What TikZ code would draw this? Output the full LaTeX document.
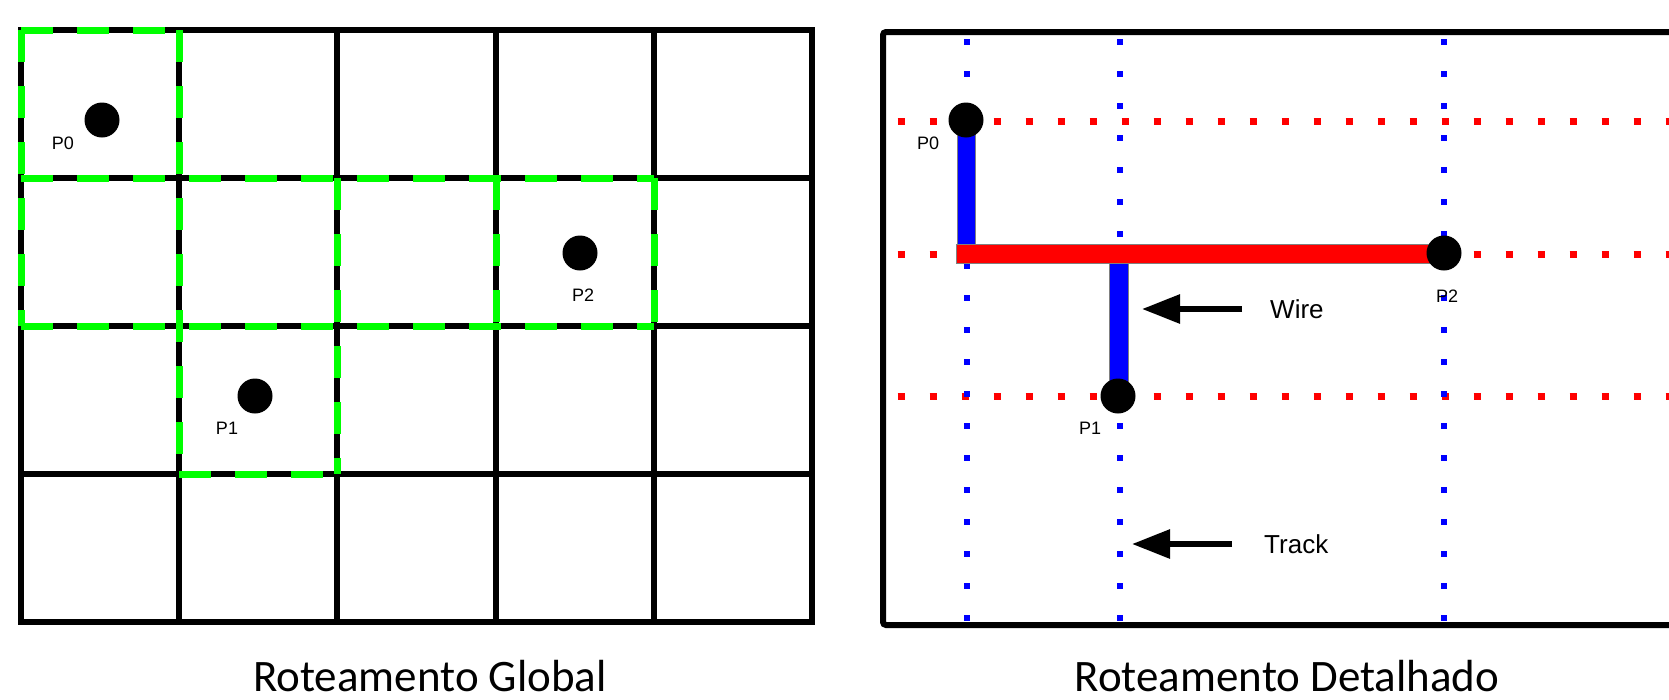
\documentclass[tikz,border=0pt]{standalone}
\usepackage{fontspec}
\setmainfont{Liberation Sans}
\newfontfamily\titlefont{Carlito}
\usetikzlibrary{arrows.meta}
\tikzset{
  gridline/.style={line width=6pt, black},
  routeline/.style={line width=7pt, color=green!100, dash pattern=on 32pt off 24pt},
  pin/.style={circle, fill=black, inner sep=0pt, minimum size=35pt},
  pinlabel/.style={font=\fontsize{18}{18}\selectfont, inner sep=0pt},
  hdots/.style={line width=7pt, color=red, dash pattern=on 7pt off 25pt},
  vdots/.style={line width=6pt, color=blue, dash pattern=on 6pt off 26pt},
  wireblue/.style={fill=blue, draw=gray, line width=1pt},
  wirered/.style={fill=red, draw=gray, line width=1pt},
  callout/.style={line width=6pt, -{Triangle[length=38pt,width=28pt]}},
  calltext/.style={font=\fontsize{26}{26}\selectfont, anchor=west, inner sep=0pt},
  titletext/.style={font=\titlefont\fontsize{45}{45}\selectfont, anchor=base, inner sep=0pt}
}
\begin{document}
\begin{tikzpicture}[x=1pt,y=-1pt]
\useasboundingbox (0,0) rectangle (1669,699);
\clip (0,0) rectangle (1669,699);
% ---------- Global routing grid ----------
\foreach \x in {179,337,496,654} \draw[gridline] (\x,30) -- (\x,622);
\foreach \y in {178,326,474} \draw[gridline] (21,\y) -- (812,\y);
\draw[gridline] (21,30) rectangle (812,622);
% green route cells
\draw[routeline] (21,30) -- (179,30);
\draw[routeline] (21,178) -- (654,178);
\draw[routeline] (21,326) -- (654,326);
\draw[routeline] (179,474) -- (337,474);
\draw[routeline] (21,30) -- (21,326);
\draw[routeline] (179,30) -- (179,474);
\draw[routeline] (337,178) -- (337,474);
\draw[routeline] (496,178) -- (496,326);
\draw[routeline] (654,178) -- (654,326);
% pins
\node[pin] (g0) at (102,120) {};
\node[pin] (g1) at (255,396) {};
\node[pin] (g2) at (580,253) {};
\node[pinlabel] (g0l) at (63,143) {P0};
\node[pinlabel] (g1l) at (227,428) {P1};
\node[pinlabel] (g2l) at (583,295) {P2};
\node[titletext] (t1) at (430,691) {Roteamento Global};
% ---------- Detailed routing ----------
\draw[line width=6pt, rounded corners=3pt] (1720,32) -- (883,32) -- (883,625) -- (1720,625);
% tracks
\foreach \y in {121,254,396} \draw[hdots] (897.5,\y) -- (1700,\y);
\foreach \x in {967,1120,1444} \draw[vdots] (\x,39) -- (\x,621);
% wires
\draw[wireblue] (957,120) rectangle (975,254);
\draw[wireblue] (1109,262) rectangle (1128,396);
\draw[wirered] (956,244) rectangle (1444,263);
% pins
\node[pin] (d0) at (966,120) {};
\node[pin] (d1) at (1118,396) {};
\node[pin] (d2) at (1444,253) {};
\node[pinlabel] (d0l) at (928,143) {P0};
\node[pinlabel] (d1l) at (1090,428) {P1};
\node[pinlabel] (d2l) at (1447,296) {P2};
% callouts
\node[calltext] (wire) at (1270,309) {Wire};
\coordinate (wiretip) at (1142,309);
\draw[callout] ([xshift=-28pt]wire.west) -- (wiretip);
\node[calltext] (track) at (1264,544) {Track};
\coordinate (tracktip) at (1132,544);
\draw[callout] ([xshift=-32pt]track.west) -- (tracktip);
\node[titletext] (t2) at (1287,691) {Roteamento Detalhado};
\end{tikzpicture}
\end{document}
